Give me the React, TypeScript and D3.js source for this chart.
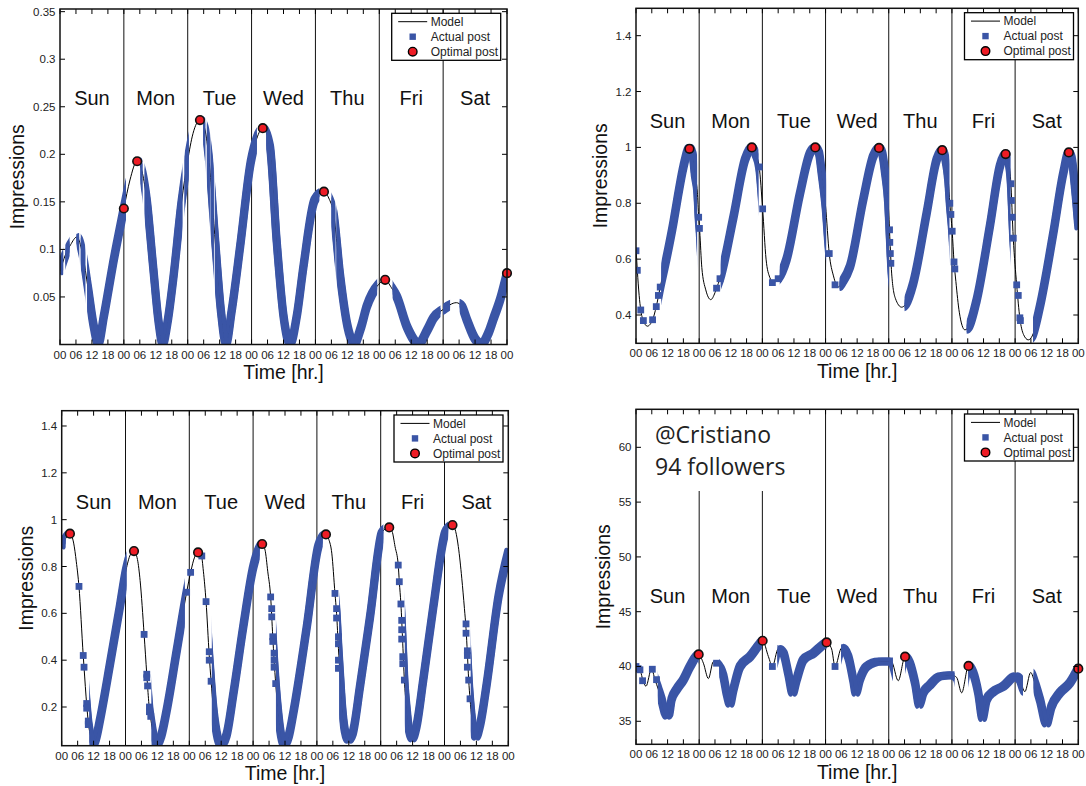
import React from 'react';
import * as d3 from 'd3';

type Pt = [number, number];
type Band = [number, number];

const DAYS = ['Sun', 'Mon', 'Tue', 'Wed', 'Thu', 'Fri', 'Sat'];
const HOUR_TICKS = [0, 6, 12, 18, 24, 30, 36, 42, 48, 54, 60, 66, 72, 78, 84, 90, 96, 102, 108, 114, 120, 126, 132, 138, 144, 150, 156, 162, 168];
const DAY_BOUNDARIES = [24, 48, 72, 96, 120, 144];

// ---------- Panel A (top-left) ----------
const yTicksA = [0.05, 0.1, 0.15, 0.2, 0.25, 0.3, 0.35];
const modelA: Pt[] = [[0,0.077],[2,0.094],[4,0.105],[6.3,0.113],[8.5,0.095],[10.6,0.058],[12.5,0.022],[14.4,0.001],[16.5,0.03],[18.5,0.062],[20,0.086],[22,0.115],[24,0.143],[26.3,0.173],[29,0.193],[31,0.18],[32.6,0.152],[35,0.082],[37,0.025],[38.6,0.001],[40.5,0.025],[42.6,0.07],[45.7,0.15],[47.9,0.192],[50,0.222],[52.6,0.236],[54.3,0.228],[55.8,0.2],[58.3,0.11],[60.5,0.035],[62.4,0.001],[64.5,0.035],[67.7,0.103],[71.7,0.192],[74,0.217],[76.2,0.2275],[78.9,0.208],[81.4,0.11],[84,0.03],[86.5,0.001],[89,0.03],[91.5,0.082],[95.7,0.152],[99.2,0.1607],[101,0.154],[102.8,0.138],[105.3,0.072],[108,0.02],[110.6,0.001],[113,0.017],[115.3,0.04],[119.7,0.063],[122.2,0.068],[124.5,0.06],[126.6,0.05],[130.5,0.018],[134.8,0.001],[138,0.015],[140.4,0.028],[144.1,0.037],[149,0.044],[151,0.04],[152.9,0.026],[156,0.006],[158.5,0.001],[161,0.012],[162.9,0.027],[165.5,0.048],[168,0.075]];
const bandsA: Band[] = [[0,1.2],[2,3.6],[6.2,7.2],[7.8,9.5],[10.2,24.8],[30.2,31],[31.8,46],[46.8,48.4],[53.8,54.6],[55.2,56.3],[56.6,57.8],[58.2,74],[77.5,97.5],[102,103.5],[103.9,119.2],[125,143],[144,146.6],[150.2,168]];
const postsA: Pt[] = [];
const optimalA: Pt[] = [[24,0.143],[29,0.1927],[52.6,0.236],[76.2,0.2275],[99.2,0.1607],[122.2,0.068],[168,0.075]];

// ---------- Panel B (top-right) ----------
const yTicksB = [0.4, 0.6, 0.8, 1, 1.2, 1.4];
const modelB: Pt[] = [[0,0.64],[0.5,0.56],[1.2,0.47],[1.8,0.418],[2.8,0.38],[4.3,0.36],[6.3,0.383],[7.7,0.43],[9.2,0.5],[11.5,0.6],[14.2,0.73],[16,0.83],[18,0.93],[20.3,0.998],[21.5,0.975],[22.4,0.9],[23.3,0.84],[23.8,0.75],[24.2,0.7],[25,0.57],[26.5,0.49],[28.4,0.455],[30,0.48],[30.6,0.496],[31.9,0.53],[37,0.75],[41.4,0.956],[44,1.0],[45.5,0.975],[46.8,0.93],[48.1,0.78],[49.4,0.6],[50.8,0.535],[52.2,0.516],[54,0.53],[57.2,0.6],[62.3,0.836],[66.1,0.98],[68.1,1.0],[69.5,0.98],[70.5,0.91],[72,0.79],[73.4,0.62],[75,0.54],[76.8,0.5],[78.5,0.52],[81.3,0.574],[86.3,0.813],[90.1,0.968],[92.3,0.998],[93.5,0.98],[94.6,0.91],[95.8,0.8],[96.4,0.68],[97.1,0.55],[98.5,0.46],[100.9,0.428],[102.5,0.44],[105.3,0.514],[110.4,0.765],[114.2,0.956],[116.3,0.99],[117.5,0.96],[118.6,0.884],[119.2,0.8],[120.1,0.7],[120.8,0.59],[121.5,0.52],[122.8,0.41],[124.9,0.347],[126.5,0.36],[129.4,0.454],[134.4,0.717],[138.2,0.932],[140.4,0.977],[141.5,0.95],[142.3,0.884],[143.3,0.675],[144.6,0.508],[145.8,0.389],[147.2,0.33],[149,0.311],[150.5,0.325],[153.4,0.43],[158.5,0.693],[162.3,0.908],[164.4,0.982],[165.5,0.96],[166.7,0.86],[168,0.717]];
const bandsB: Band[] = [[9.6,23.2],[32.2,46.5],[54.6,72.2],[77.3,96.1],[102,119],[125.6,142.2],[150.8,168]];
const postsB: Pt[] = [[0,0.63],[0.5,0.56],[1.8,0.418],[2.8,0.38],[6.3,0.383],[7.7,0.43],[8.5,0.47],[9.2,0.5],[23.8,0.75],[24.1,0.71],[30.6,0.496],[31.9,0.53],[46.8,0.93],[48.1,0.78],[51.8,0.516],[54,0.53],[73.4,0.62],[75.6,0.508],[96.3,0.705],[96.4,0.66],[96.6,0.62],[96.8,0.585],[119.2,0.8],[119.6,0.76],[120.1,0.7],[120.8,0.59],[121.1,0.565],[142.4,0.87],[142.6,0.81],[142.9,0.75],[143.3,0.675],[144.6,0.508],[145.2,0.47],[145.8,0.39],[146,0.38]];
const optimalB: Pt[] = [[20.3,0.995],[44,1.0],[68.1,1.0],[92.3,0.998],[116.3,0.99],[140.4,0.976],[164.4,0.982]];

// ---------- Panel C (bottom-left) ----------
const yTicksC = [0.2, 0.4, 0.6, 0.8, 1, 1.2, 1.4];
const modelC: Pt[] = [[0,0.89],[1.5,0.92],[3.1,0.94],[4.5,0.9],[5.5,0.82],[6.5,0.714],[8.1,0.42],[8.4,0.37],[9.4,0.21],[10,0.135],[11,0.07],[11.9,0.04],[13,0.07],[14.4,0.145],[18.2,0.386],[21.9,0.63],[24.2,0.785],[25.8,0.85],[27.2,0.866],[28.5,0.83],[29.5,0.74],[31,0.51],[32,0.34],[32.3,0.29],[33,0.19],[33.5,0.15],[34.5,0.08],[35.7,0.038],[37.5,0.08],[39.5,0.187],[43.3,0.443],[47,0.69],[48.5,0.775],[50,0.84],[51.3,0.86],[52.5,0.85],[53.3,0.78],[54.3,0.65],[55.5,0.42],[56.2,0.31],[57,0.2],[58.3,0.09],[59.8,0.038],[62,0.08],[64.6,0.258],[68.3,0.543],[72.1,0.8],[74,0.87],[75.4,0.896],[76.5,0.87],[77.5,0.78],[78.6,0.67],[79.4,0.5],[79.9,0.4],[80.5,0.3],[81.5,0.17],[82.5,0.08],[83.6,0.038],[85.5,0.08],[87.1,0.173],[92.2,0.543],[96.5,0.885],[98,0.925],[99.4,0.937],[100.5,0.915],[101.6,0.857],[102.8,0.685],[103.4,0.6],[104.1,0.45],[104.7,0.34],[105.5,0.2],[106.5,0.1],[107.8,0.06],[109.5,0.09],[112.2,0.287],[116,0.586],[120.4,0.942],[122,0.963],[123.2,0.967],[124.3,0.95],[125.4,0.885],[126.6,0.806],[127,0.735],[127.6,0.64],[128.3,0.47],[128.9,0.315],[129.7,0.2],[130.7,0.1],[131.9,0.066],[133.5,0.12],[136,0.315],[139.8,0.628],[144.2,0.942],[145.8,0.97],[147,0.977],[148.2,0.95],[149.2,0.885],[150.5,0.75],[151.5,0.62],[152.1,0.535],[152.6,0.43],[153.1,0.315],[153.6,0.235],[154.3,0.15],[155.8,0.073],[157.5,0.13],[159.9,0.3],[164.3,0.671],[168,0.863]];
const bandsC: Band[] = [[0,1.5],[10.4,24.4],[33.8,46.3],[56.5,74.5],[80.6,98.2],[104.4,121],[129.1,145.4],[153.9,168]];
const postsC: Pt[] = [[6.5,0.715],[8.1,0.42],[8.4,0.37],[9.4,0.215],[9.4,0.195],[10,0.14],[10,0.125],[31,0.51],[32,0.34],[32,0.325],[32.3,0.29],[33,0.2],[33,0.18],[33.5,0.16],[47,0.69],[48.5,0.775],[52.7,0.845],[54.3,0.65],[55.5,0.436],[55.5,0.4],[56.2,0.31],[78.6,0.67],[79,0.62],[79,0.585],[79.4,0.5],[79.4,0.48],[79.9,0.43],[79.9,0.4],[79.9,0.37],[80.5,0.3],[102.8,0.685],[103.4,0.62],[103.4,0.58],[104.1,0.5],[104.1,0.47],[104.1,0.4],[104.1,0.365],[126.6,0.806],[127,0.735],[127.6,0.64],[127.9,0.57],[127.9,0.53],[127.9,0.49],[128.3,0.415],[128.3,0.385],[128.9,0.315],[152.1,0.555],[152.1,0.515],[152.6,0.44],[152.6,0.42],[152.6,0.37],[153.1,0.315],[153.6,0.235]];
const optimalC: Pt[] = [[3.1,0.94],[27.2,0.866],[51.3,0.86],[75.4,0.896],[99.4,0.937],[123.2,0.967],[147,0.977]];

// ---------- Panel D (bottom-right) ----------
const yTicksD = [35, 40, 45, 50, 55, 60];
const modelD: Pt[] = [[0,40],[1.5,39.7],[2.8,38.6],[3.8,38.2],[5.9,39.8],[7.2,38.8],[8.5,37.9],[9.7,37],[11,35.8],[11.8,35.5],[12.6,35.7],[13.5,37],[15.4,37.9],[18,38.8],[20.5,40],[23.8,41.1],[25.6,40.3],[27.5,38.9],[29.4,40.45],[30.6,40.3],[33.2,39.1],[34.4,37.6],[35.7,36.6],[37,37.9],[39.5,40],[43.3,40.9],[47.1,42.1],[48.1,42.35],[50.3,40.9],[51.8,40],[54,41.6],[56,41.2],[57.8,39.4],[59.5,37.6],[61,38.8],[63.5,40.6],[67.3,41.2],[71.1,42],[72.4,42.2],[74.3,41.6],[75.6,40],[78.1,41.7],[80.6,40.9],[82.5,38.8],[83.5,37.6],[85,38.8],[87.6,40],[92.7,40.45],[97,40.45],[99.6,38.7],[102.2,40.9],[104,40.3],[106,38.5],[107.6,36.5],[109.1,37.6],[111.6,38.3],[115.4,39.1],[120.1,39.2],[121.8,39],[123.7,37.6],[126.3,40.05],[128.1,39.4],[130,37.6],[131.6,35.3],[133.2,37],[135.7,37.7],[139.5,38.2],[144.1,39.1],[145.8,38.8],[147.7,37.7],[149.9,39.45],[151.5,38.5],[153.4,37],[155.9,34.8],[157.8,36.35],[161,37.6],[164.8,38.5],[168,39.85]];
const bandsD: Band[] = [[8.3,23.8],[31.6,47.8],[53.7,72.4],[77.9,97.6],[102.2,121],[126.2,147],[151,168]];
const postsD: Pt[] = [[0,40],[0.8,39.8],[1.5,39.7],[2.5,38.7],[6.2,39.75],[7.8,38.8],[30.6,40.3],[51.8,40],[75.6,40]];
const optimalD: Pt[] = [[23.8,41.1],[48.1,42.35],[72.4,42.2],[102.2,40.9],[126.3,40.05],[168,39.8]];

const BLUE = '#3a55a6';
const RED = '#ee1c25';
const FONT = '"Liberation Sans", Arial, Helvetica, sans-serif';
// offsets that turn a stroked curve into a trail of square markers
const SQUARE_OFFSETS: Pt[] = [[-2, -2], [2, -2], [-2, 2], [2, 2]];

interface PanelProps {
  id: string;
  l: number; r: number; t: number; b: number;
  yDomain: [number, number];
  yTicks: number[];
  model: Pt[]; bands: Band[]; posts: Pt[]; optimal: Pt[];
  ylabelX: number; dayY: number;
  legX: number; legY: number;
  annotation?: boolean;
}

function Legend({ x, y }: { x: number; y: number }) {
  const w = 109, h = 47;
  return (
    <g>
      <rect x={x} y={y} width={w} height={h} fill="#fff" stroke="#000" strokeWidth={1.3} />
      <line x1={x + 6.5} x2={x + 35.5} y1={y + 8.4} y2={y + 8.4} stroke="#000" strokeWidth={1} />
      <rect x={x + 21 - 3.2} y={y + 23.4 - 3.2} width={6.4} height={6.4} fill={BLUE} />
      <circle cx={x + 21} cy={y + 38.4} r={4.3} fill={RED} stroke="#000" strokeWidth={1.4} />
      <text x={x + 39} y={y + 12.6} fontSize={12} fontFamily={FONT} fill="#222">Model</text>
      <text x={x + 39} y={y + 27.6} fontSize={12} fontFamily={FONT} fill="#222">Actual post</text>
      <text x={x + 39} y={y + 42.6} fontSize={12} fontFamily={FONT} fill="#222">Optimal post</text>
    </g>
  );
}

function Panel(p: PanelProps) {
  const x = d3.scaleLinear().domain([0, 168]).range([p.l, p.r]);
  const y = d3.scaleLinear().domain(p.yDomain).range([p.b, p.t]);
  const line = d3.line<Pt>().x(d => x(d[0])).y(d => y(d[1])).curve(d3.curveMonotoneX);
  const path = line(p.model) || '';
  const tick = 5;
  const midY = (p.t + p.b) / 2;
  const midX = (p.l + p.r) / 2;
  return (
    <g>
      <defs>
        <clipPath id={`plot-${p.id}`}>
          <rect x={p.l} y={p.t} width={p.r - p.l} height={p.b - p.t} />
        </clipPath>
        <clipPath id={`bands-${p.id}`}>
          {p.bands.map((bd, i) => (
            <rect key={i} x={x(bd[0])} y={p.t - 20} width={x(bd[1]) - x(bd[0])} height={p.b - p.t + 40} />
          ))}
        </clipPath>
      </defs>
      <rect x={p.l} y={p.t} width={p.r - p.l} height={p.b - p.t} fill="#fff" />
      {DAY_BOUNDARIES.map(h => (
        <line key={h} x1={x(h)} x2={x(h)} y1={p.t} y2={p.b} stroke="#111" strokeWidth={1} />
      ))}
      {p.annotation && (
        <g>
          <rect x={p.l + 2} y={p.t + 2} width={x(72) - p.l - 10} height={491 - p.t - 2} fill="#fff" />
          <text x={655} y={443.3} fontSize={23} fontFamily='"Open Sans", "Noto Sans", sans-serif' fill="#222">@Cristiano</text>
          <text x={655} y={475.3} fontSize={23} fontFamily='"Open Sans", "Noto Sans", sans-serif' fill="#222">94 followers</text>
        </g>
      )}
      <g clipPath={`url(#plot-${p.id})`}>
        <path d={path} fill="none" stroke="#000" strokeWidth={1} />
        <g clipPath={`url(#bands-${p.id})`}>
          {SQUARE_OFFSETS.map((o, i) => (
            <path key={i} d={path} transform={`translate(${o[0]},${o[1]})`} fill="none" stroke={BLUE} strokeWidth={4} strokeLinejoin="round" strokeLinecap="round" />
          ))}
        </g>
        {p.posts.map((d, i) => (
          <rect key={i} x={x(d[0]) - 3.4} y={y(d[1]) - 3.4} width={6.8} height={6.8} fill={BLUE} />
        ))}
      </g>
      {p.optimal.map((d, i) => (
        <circle key={i} cx={x(d[0])} cy={y(d[1])} r={4.3} fill={RED} stroke="#111" strokeWidth={1.6} />
      ))}
      {HOUR_TICKS.map(h => (
        <g key={h}>
          <line x1={x(h)} x2={x(h)} y1={p.b} y2={p.b - tick} stroke="#000" strokeWidth={1} />
          <line x1={x(h)} x2={x(h)} y1={p.t} y2={p.t + tick} stroke="#000" strokeWidth={1} />
          <text x={x(h)} y={p.b + 14} fontSize={11.5} textAnchor="middle" fontFamily={FONT} fill="#222">
            {String(h % 24).padStart(2, '0')}
          </text>
        </g>
      ))}
      {p.yTicks.map(v => (
        <g key={v}>
          <line x1={p.l} x2={p.l + tick} y1={y(v)} y2={y(v)} stroke="#000" strokeWidth={1} />
          <line x1={p.r} x2={p.r - tick} y1={y(v)} y2={y(v)} stroke="#000" strokeWidth={1} />
          <text x={p.l - 4.5} y={y(v) + 4} fontSize={11.5} textAnchor="end" fontFamily={FONT} fill="#222">{String(v)}</text>
        </g>
      ))}
      {DAYS.map((dname, i) => (
        <text key={dname} x={x(i * 24 + 12)} y={p.dayY} fontSize={20} textAnchor="middle" fontFamily={FONT} fill="#111">{dname}</text>
      ))}
      <rect x={p.l} y={p.t} width={p.r - p.l} height={p.b - p.t} fill="none" stroke="#111" strokeWidth={1.5} />
      <Legend x={p.legX} y={p.legY} />
      <text x={midX} y={p.b + 34.5} fontSize={19.5} textAnchor="middle" fontFamily={FONT} fill="#111">Time [hr.]</text>
      <text transform={`translate(${p.ylabelX},${midY}) rotate(-90)`} fontSize={19.5} textAnchor="middle" fontFamily={FONT} fill="#111">Impressions</text>
    </g>
  );
}

export default function App() {
  return (
    <svg width={1086} height={786} style={{ position: 'absolute', left: 0, top: 0, background: '#fff' }}>
      <rect width={1086} height={786} fill="#fff" />
      <Panel id="a" l={60} r={507} t={9} b={344.5} yDomain={[0, 0.3528]} yTicks={yTicksA}
        model={modelA} bands={bandsA} posts={postsA} optimal={optimalA}
        ylabelX={24} dayY={105.3} legX={391.7} legY={13.3} />
      <Panel id="b" l={636} r={1078.3} t={8.3} b={343.3} yDomain={[0.2987, 1.498]} yTicks={yTicksB}
        model={modelB} bands={bandsB} posts={postsB} optimal={optimalB}
        ylabelX={606.7} dayY={127.7} legX={964.5} legY={12.7} />
      <Panel id="c" l={61.7} r={508.3} t={410.7} b={745.7} yDomain={[0.0348, 1.4653]} yTicks={yTicksC}
        model={modelC} bands={bandsC} posts={postsC} optimal={optimalC}
        ylabelX={33.3} dayY={509.3} legX={394} legY={415} />
      <Panel id="d" l={636} r={1078.3} t={409.3} b={744.3} yDomain={[32.9, 63.47]} yTicks={yTicksD}
        model={modelD} bands={bandsD} posts={postsD} optimal={optimalD}
        ylabelX={610} dayY={602.7} legX={964.5} legY={414} annotation />
    </svg>
  );
}
